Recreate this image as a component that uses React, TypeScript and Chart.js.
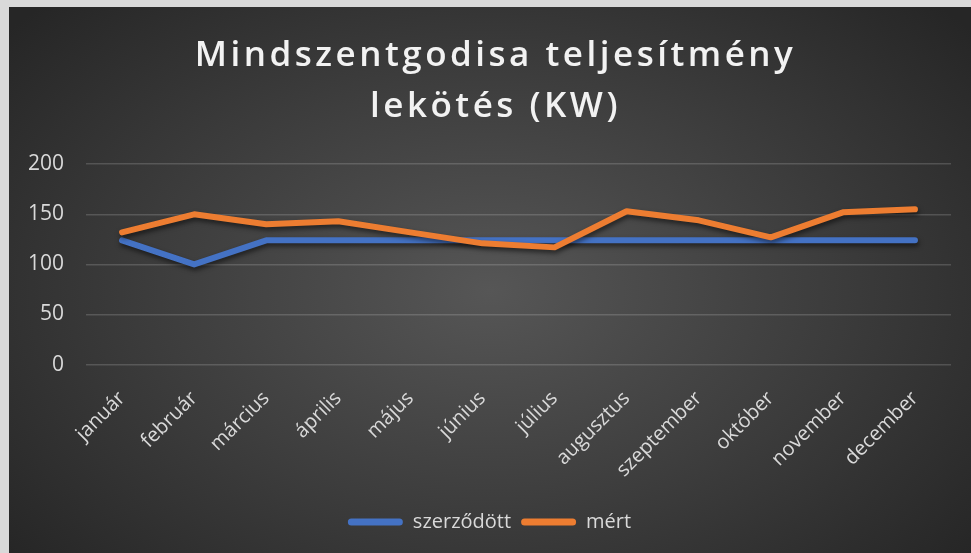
import React, { useEffect, useRef } from "react";
import { Chart, registerables } from "chart.js";

Chart.register(...registerables);

const TITLE_LINES = ["Mindszentgodisa teljesítmény", "lekötés (KW)"];
const MONTHS = [
  "január",
  "február",
  "március",
  "április",
  "május",
  "június",
  "július",
  "augusztus",
  "szeptember",
  "október",
  "november",
  "december",
];
const CONTRACTED_LABEL = "szerződött";
const MEASURED_LABEL = "mért";
const CONTRACTED = [124, 100, 124, 124, 124, 124, 124, 124, 124, 124, 124, 124];
const MEASURED = [132, 150, 140, 143, 132, 121, 117, 153, 144, 127, 152, 155];
const Y_MIN = 0;
const Y_MAX = 200;
const Y_STEP = 50;

const BLUE = "#4472C4";
const ORANGE = "#ED7D31";
const FONT = "'Open Sans', 'Noto Sans', sans-serif";

const shadowPlugin = {
  id: "lineShadow",
  beforeDatasetsDraw(chart: any) {
    const c = chart.ctx;
    c.save();
    c.shadowColor = "rgba(0,0,0,0.55)";
    c.shadowBlur = 5;
    c.shadowOffsetX = 1;
    c.shadowOffsetY = 3;
  },
  afterDatasetsDraw(chart: any) {
    chart.ctx.restore();
  },
};

const titleSpacingPlugin = {
  id: "titleSpacing",
  beforeDraw(chart: any) {
    const tb = chart.titleBlock;
    if (tb && !tb.__spaced) {
      const orig = tb.draw.bind(tb);
      tb.draw = (...args: any[]) => {
        const c = chart.ctx;
        c.save();
        c.translate(6, 0);
        (c as any).letterSpacing = "3.5px";
        orig(...args);
        c.restore();
      };
      tb.__spaced = true;
    }
  },
};

export default function App() {
  const ref = useRef<HTMLCanvasElement | null>(null);

  useEffect(() => {
    if (!ref.current) return;
    const chart = new Chart(ref.current, {
      type: "line",
      data: {
        labels: MONTHS,
        datasets: [
          {
            label: CONTRACTED_LABEL,
            data: CONTRACTED,
            borderColor: BLUE,
            backgroundColor: BLUE,
            borderWidth: 6,
            borderCapStyle: "round",
            borderJoinStyle: "round",
            pointRadius: 0,
            tension: 0,
            order: 2,
          },
          {
            label: MEASURED_LABEL,
            data: MEASURED,
            borderColor: ORANGE,
            backgroundColor: ORANGE,
            borderWidth: 6,
            borderCapStyle: "round",
            borderJoinStyle: "round",
            pointRadius: 0,
            tension: 0,
            order: 1,
          },
        ],
      },
      options: {
        animation: false,
        responsive: true,
        maintainAspectRatio: false,
        layout: { padding: { left: 19, right: 20, top: 0, bottom: 11 } },
        plugins: {
          tooltip: { enabled: false },
          title: {
            display: true,
            text: TITLE_LINES,
            color: "#f2f2f2",
            font: { family: FONT, size: 35, weight: "600", lineHeight: 1.46 },
            padding: { top: 23, bottom: 32 },
          },
          legend: {
            display: true,
            position: "bottom",
            labels: {
              color: "#d9d9d9",
              font: { family: FONT, size: 20 },
              boxWidth: 55,
              boxHeight: 7,
              useBorderRadius: true,
              borderRadius: 3.5,
              padding: 10,
              generateLabels: (chart: any) =>
                chart.data.datasets.map((ds: any, i: number) => ({
                  text: ds.label,
                  fillStyle: ds.borderColor,
                  strokeStyle: ds.borderColor,
                  lineWidth: 0,
                  fontColor: "#d9d9d9",
                  hidden: false,
                  datasetIndex: i,
                  borderRadius: 3.5,
                })),
            },
          },
        },
        scales: {
          x: {
            offset: true,
            grid: { display: false },
            border: { display: false },
            afterFit: (scale: any) => {
              scale.paddingLeft = 0;
              scale.paddingRight = 0;
              scale.height = scale.height + 6;
            },
            ticks: {
              color: "#d9d9d9",
              font: { family: FONT, size: 20 },
              maxRotation: 45,
              minRotation: 45,
              autoSkip: false,
              padding: 14,
            },
          },
          y: {
            min: Y_MIN,
            max: Y_MAX,
            grid: { color: "rgba(255,255,255,0.16)", lineWidth: 1.5, drawTicks: false },
            border: { display: false },
            afterFit: (scale: any) => {
              scale.width = scale.width - 22;
            },
            ticks: {
              stepSize: Y_STEP,
              color: "#d9d9d9",
              font: { family: FONT, size: 21 },
              padding: 22,
            },
          },
        },
      },
      plugins: [shadowPlugin, titleSpacingPlugin],
    } as any);
    return () => chart.destroy();
  }, []);

  return (
    <>
      <div style={{ position: "fixed", inset: 0, background: "#d9d9d9" }} />
      <div
        style={{
          position: "fixed",
          left: 9,
          top: 7,
          width: 962,
          height: 546,
          background:
            "radial-gradient(ellipse 65% 75% at 50% 52%, #565656 0%, #3c3c3c 55%, #262626 100%)",
        }}
      >
        <canvas ref={ref} />
      </div>
    </>
  );
}
